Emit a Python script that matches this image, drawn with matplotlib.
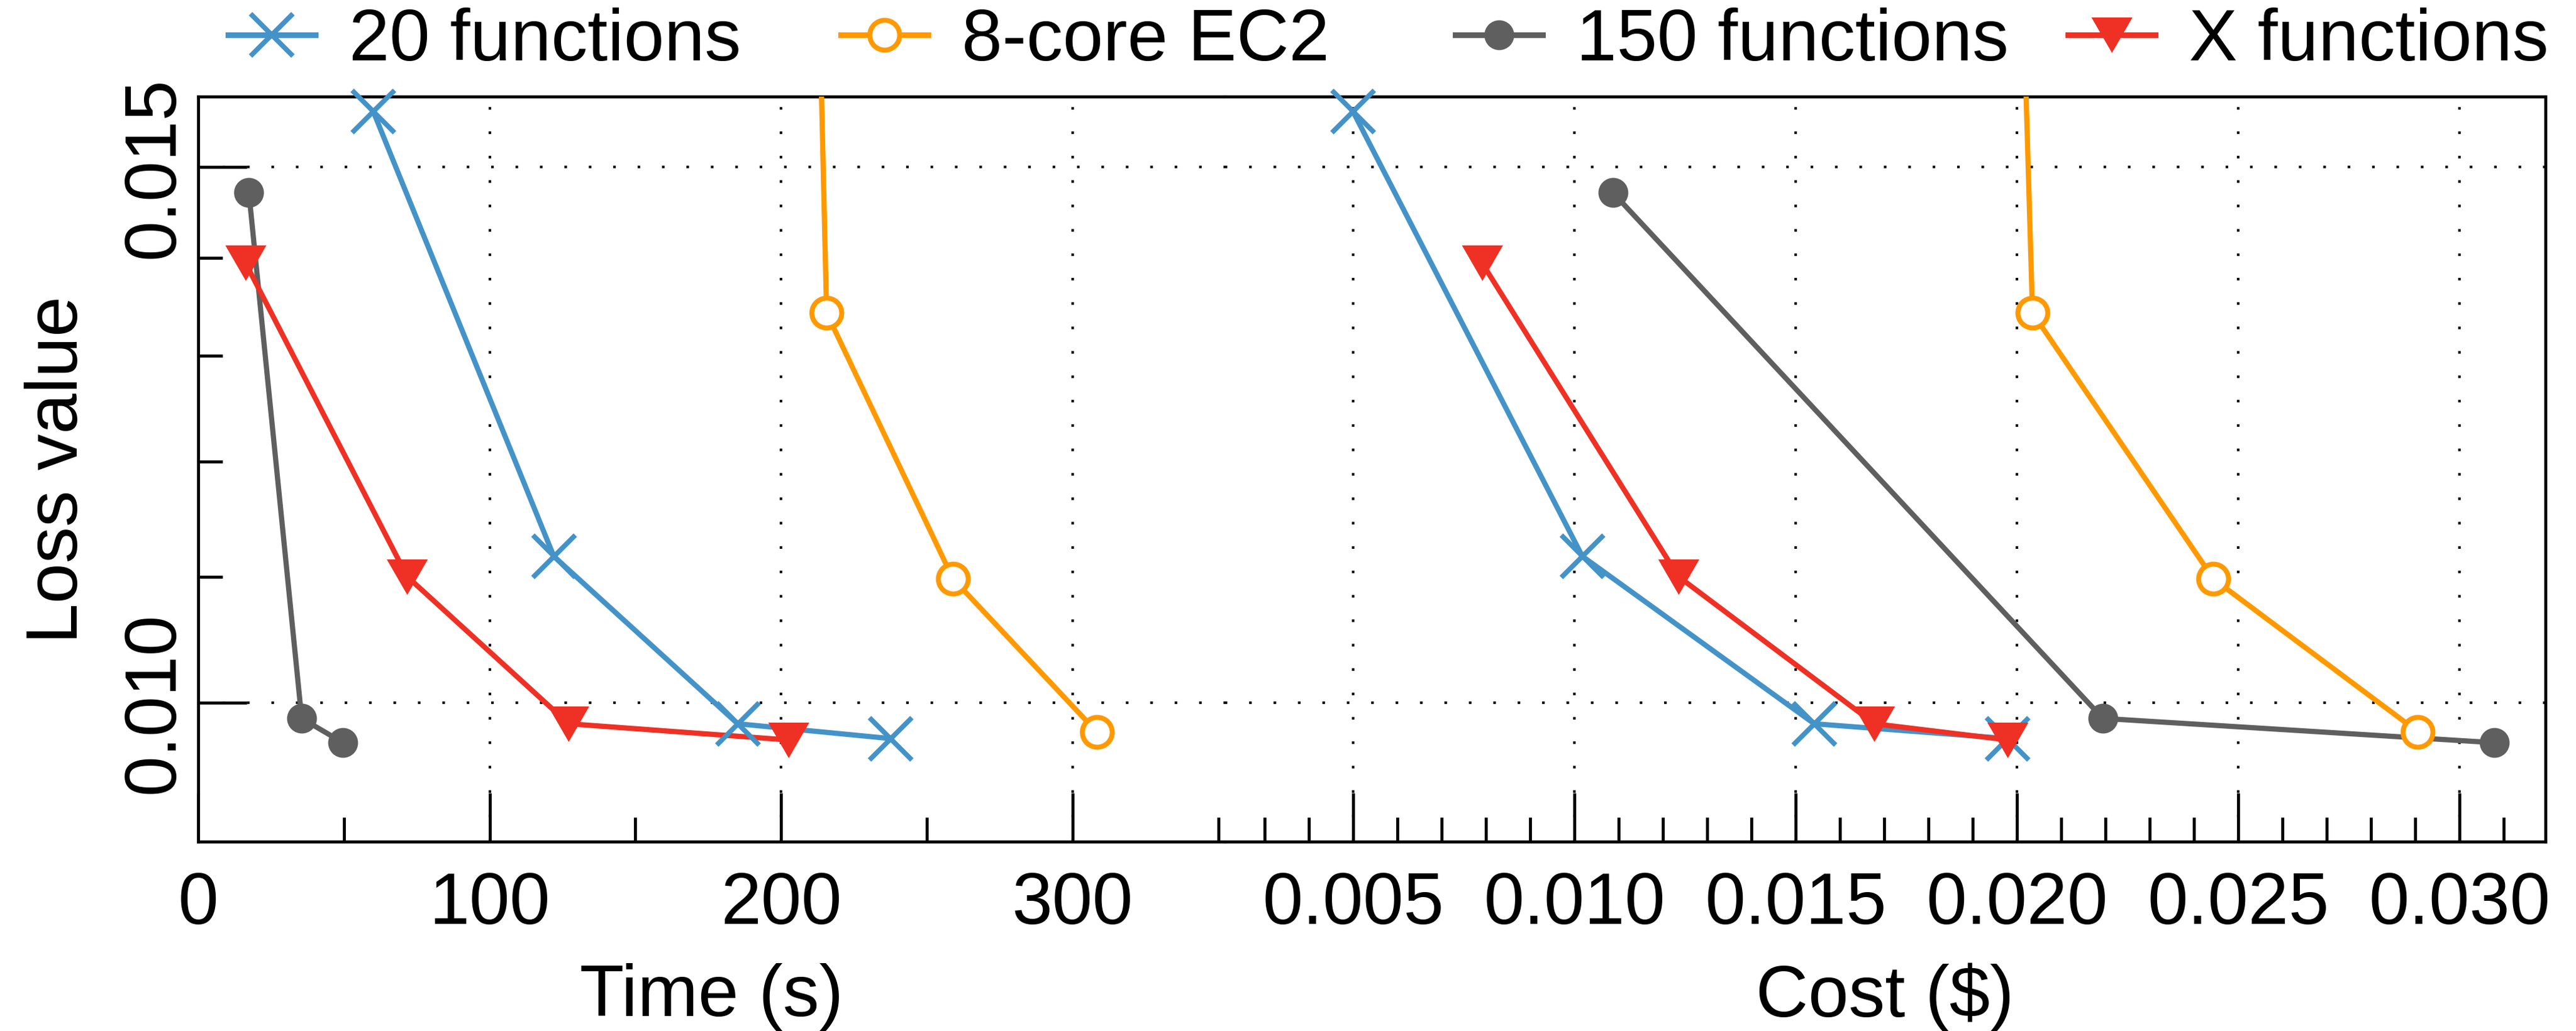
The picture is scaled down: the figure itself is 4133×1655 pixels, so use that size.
import matplotlib
matplotlib.use("Agg")
import matplotlib.pyplot as plt
from matplotlib.lines import Line2D
from matplotlib.ticker import FixedLocator, MultipleLocator, NullFormatter

plt.rcParams['font.family'] = ['Liberation Sans', 'DejaVu Sans']
plt.rcParams['font.size'] = 28

# data (first EC2 point lies above the plotted range)
labels = ["20 functions", "8-core EC2", "150 functions", "X functions"]

time_20 = [60.1, 122.0, 185.1, 237.6]
cost_20 = [0.00500, 0.01018, 0.01542, 0.01979]
loss_20 = [0.01564, 0.01117, 0.00984, 0.00973]

time_ec2 = [211.4, 215.6, 259.0, 308.3]
cost_ec2 = [0.02000, 0.02035, 0.02444, 0.02906]
loss_ec2 = [0.02000, 0.01343, 0.01098, 0.00978]

time_150 = [17.4, 35.5, 49.7]
cost_150 = [0.01087, 0.02194, 0.03078]
loss_150 = [0.01471, 0.00988, 0.00970]

time_x = [16.2, 71.7, 127.1, 202.5]
cost_x = [0.00791, 0.01235, 0.01678, 0.01979]
loss_x = [0.01395, 0.01100, 0.00984, 0.00972]

y_ticks = [0.010, 0.015]
y_ticklabels = ["0.010", "0.015"]
y_minor = [0.011, 0.012, 0.013, 0.014]
time_ticks = [0, 100, 200, 300]
cost_ticks = [0.005, 0.010, 0.015, 0.020, 0.025, 0.030]

tri = [(-1, 0.866), (1, 0.866), (0, -0.866)]
styles = [
    dict(color="#4493c8", marker="x", ms=16.5, mew=1.9, mfc="#4493c8"),
    dict(color="#ff9900", marker="o", ms=11.5, mew=1.9, mfc="white"),
    dict(color="#5f5f5f", marker="o", ms=11.5, mew=0, mfc="#5f5f5f"),
    dict(color="#ee3124", marker=tri, ms=15.8, mew=0, mfc="#ee3124"),
]

fig = plt.figure(figsize=(4133 / 300, 1656 / 300), dpi=300)
ax1 = fig.add_axes([0.07694, 0.18357, 0.3985, 0.72222])
ax2 = fig.add_axes([0.47544, 0.18357, 0.5127, 0.72222], sharey=ax1)

series_t = [(time_20, loss_20), (time_ec2, loss_ec2), (time_150, loss_150), (time_x, loss_x)]
series_c = [(cost_20, loss_20), (cost_ec2, loss_ec2), (cost_150, loss_150), (cost_x, loss_x)]
ylo, yhi = 0.0090, 0.01582

for ax, series in [(ax1, series_t), (ax2, series_c)]:
    for (xs, ys), st in zip(series, styles):
        ax.plot(xs, ys, color=st["color"], lw=2.0, zorder=3)
        keep = [i for i, v in enumerate(ys) if ylo <= v <= yhi]
        ax.plot([xs[i] for i in keep], [ys[i] for i in keep], ls="none",
                marker=st["marker"], ms=st["ms"], mew=st["mew"],
                mfc=st["mfc"], mec=st["color"], clip_on=False, zorder=4)

ax1.set_yscale("log")
ax1.set_ylim(ylo, yhi)
ax1.yaxis.set_major_locator(FixedLocator(y_ticks))
ax1.yaxis.set_minor_locator(FixedLocator(y_minor))
ax1.yaxis.set_minor_formatter(NullFormatter())
ax1.set_yticklabels(y_ticklabels, rotation=90, va="center")

ax1.set_xlim(0, 352.2)
ax1.set_xticks(time_ticks)
ax1.xaxis.set_minor_locator(MultipleLocator(50))
ax2.set_xlim(0.0021, 0.03194)
ax2.set_xticks(cost_ticks)
ax2.set_xticklabels(["%.3f" % v for v in cost_ticks])
ax2.xaxis.set_minor_locator(MultipleLocator(0.001))

for ax in (ax1, ax2):
    ax.set_axisbelow(True)
    ax.grid(True, which="major", color="black", lw=1.0, ls=(0, (1, 8.4)))
    ax.tick_params(which="both", direction="in", width=1.15, top=False, right=False)
    ax.tick_params(which="major", length=18.7)
    ax.tick_params(which="minor", length=9.3)
    ax.tick_params(axis="x", which="both", pad=11)
    ax.tick_params(axis="y", which="both", pad=3.6)
    for sp in ax.spines.values():
        sp.set_linewidth(1.15)

ax1.spines["right"].set_visible(False)
ax2.spines["left"].set_visible(False)
ax2.tick_params(axis="y", which="both", left=False, labelleft=False)

ax1.set_ylabel("Loss value")
ax1.yaxis.set_label_coords(-0.1032, 0.5)
ax1.set_xlabel("Time (s)")
ax1.xaxis.set_label_coords(0.5, -0.162)
ax2.set_xlabel("Cost ($)")
ax2.xaxis.set_label_coords(0.5, -0.162)

# one legend per entry, gnuplot-style fixed columns
legend_x = [366, 1349, 2335, 3318]
for lab, st, x0 in zip(labels, styles, legend_x):
    h = Line2D([], [], color=st["color"], lw=2.2, marker=st["marker"], ms=st["ms"],
               mew=st["mew"], mfc=st["mfc"], mec=st["color"])
    fig.legend(handles=[h], labels=[lab], loc="center left",
               bbox_to_anchor=(x0 / 4133, 1 - 67 / 1656), frameon=False,
               borderpad=0, borderaxespad=0, handlelength=1.2, handletextpad=0.46)

fig.savefig("out.png", dpi=300)
